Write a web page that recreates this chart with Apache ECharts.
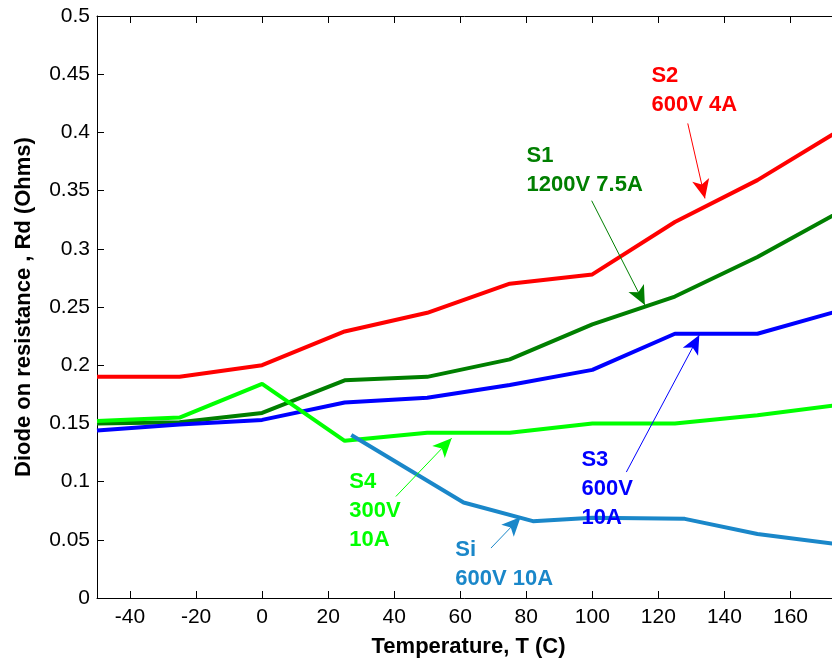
<!DOCTYPE html>
<html>
<head>
<meta charset="utf-8">
<script src="https://cdn.jsdelivr.net/npm/echarts@6/dist/echarts.min.js"></script>
<style>
  html, body { margin: 0; padding: 0; background: #fff; }
  #chart { width: 832px; height: 662px; }
</style>
</head>
<body>
<div id="chart"></div>
<script>
// temperatures (C) and diode on resistance (Ohms)
const temps = [-50, -25, 0, 25, 50, 75, 100, 125, 150, 175];
const s2 = [0.190, 0.190, 0.200, 0.229, 0.245, 0.270, 0.278, 0.323, 0.359, 0.402];
const s1 = [0.150, 0.151, 0.159, 0.187, 0.190, 0.205, 0.235, 0.259, 0.293, 0.332];
const s3 = [0.144, 0.149, 0.153, 0.168, 0.172, 0.183, 0.196, 0.227, 0.227, 0.247];
const s4 = [0.152, 0.155, 0.184, 0.135, 0.142, 0.142, 0.150, 0.150, 0.157, 0.166];
const siTemps = [27, 61, 82, 100, 128, 150, 175];
const si = [0.140, 0.082, 0.066, 0.069, 0.068, 0.055, 0.046];

const xTicks = [-40, -20, 0, 20, 40, 60, 80, 100, 120, 140, 160];

// callouts: text, text anchor (top-left), arrow start, arrow tip
const notes = {
  S2: { text: 'S2\n600V 4A', at: [117.9, 0.4607], from: [128.9, 0.4077], to: [134.1, 0.3433] },
  S1: { text: 'S1\n1200V 7.5A', at: [80.1, 0.3923], from: [99.8, 0.3413], to: [115.9, 0.2518] },
  S3: { text: 'S3\n600V\n10A', at: [96.7, 0.131], from: [110.3, 0.1082], to: [132.4, 0.226] },
  S4: { text: 'S4\n300V\n10A', at: [26.4, 0.1121], from: [40.5, 0.0872], to: [57.4, 0.1373] },
  Si: { text: 'Si\n600V 10A', at: [58.5, 0.0537], from: [69.3, 0.0429], to: [78.3, 0.0695] }
};

const font = 'Liberation Sans, Arial, Helvetica, sans-serif';

function zip(xs, ys) {
  return xs.map((x, i) => [x, ys[i]]);
}

function makeSeries(name, xs, ys, color) {
  const n = notes[name];
  return {
    name: name,
    type: 'line',
    data: zip(xs, ys),
    symbol: 'none',
    lineStyle: { color: color, width: 4 },
    itemStyle: { color: color },
    z: 3,
    markLine: {
      silent: true,
      symbol: ['none', 'arrow'],
      symbolSize: [13, 19],
      label: { show: false },
      lineStyle: { color: color, width: 1, type: 'solid' },
      data: [[{ coord: n.from }, { coord: n.to }]]
    },
    markPoint: {
      silent: true,
      symbol: 'circle',
      symbolSize: 0,
      data: [{ coord: n.at }],
      label: {
        show: true,
        position: [0, 0],
        align: 'left',
        verticalAlign: 'top',
        formatter: n.text,
        color: color,
        fontFamily: font,
        fontWeight: 'bold',
        fontSize: 22,
        lineHeight: 29
      }
    }
  };
}

const chart = echarts.init(document.getElementById('chart'));

const frameX = {
  type: 'value', min: -50, max: 175,
  axisLine: { show: true, onZero: false, lineStyle: { color: '#000', width: 1 } },
  axisTick: { show: true, inside: true, length: 7, customValues: xTicks, lineStyle: { color: '#000' } },
  splitLine: { show: false }
};
const frameY = {
  type: 'value', min: 0, max: 0.5, interval: 0.05,
  axisLine: { show: true, onZero: false, lineStyle: { color: '#000', width: 1 } },
  axisTick: { show: true, inside: true, length: 7, lineStyle: { color: '#000' } },
  splitLine: { show: false }
};

chart.setOption({
  animation: false,
  backgroundColor: '#fff',
  grid: { left: 97, right: -8, top: 16, bottom: 64, containLabel: false, outerBoundsMode: 'none' },
  xAxis: [
    Object.assign({}, frameX, {
      position: 'bottom',
      name: 'Temperature, T (C)',
      nameLocation: 'middle',
      nameGap: 38,
      nameTextStyle: { fontFamily: font, fontWeight: 'bold', fontSize: 22, color: '#000' },
      axisLabel: { show: true, customValues: xTicks, margin: 9, fontFamily: font, fontSize: 21, color: '#000' }
    }),
    Object.assign({}, frameX, { position: 'top', axisLabel: { show: false } })
  ],
  yAxis: [
    Object.assign({}, frameY, {
      position: 'left',
      name: 'Diode on resistance , Rd (Ohms)',
      nameLocation: 'middle',
      nameRotate: 90,
      nameGap: 62,
      nameTextStyle: { fontFamily: font, fontWeight: 'bold', fontSize: 22, color: '#000' },
      axisLabel: {
        show: true, margin: 7, fontFamily: font, fontSize: 21, color: '#000',
        formatter: v => String(+v.toFixed(2))
      }
    }),
    Object.assign({}, frameY, { position: 'right', axisLabel: { show: false } })
  ],
  series: [
    makeSeries('S2', temps, s2, '#ff0000'),
    makeSeries('S1', temps, s1, '#007f00'),
    makeSeries('S3', temps, s3, '#0000ff'),
    makeSeries('S4', temps, s4, '#00ff00'),
    makeSeries('Si', siTemps, si, '#1a87c9')
  ]
});
</script>
</body>
</html>
